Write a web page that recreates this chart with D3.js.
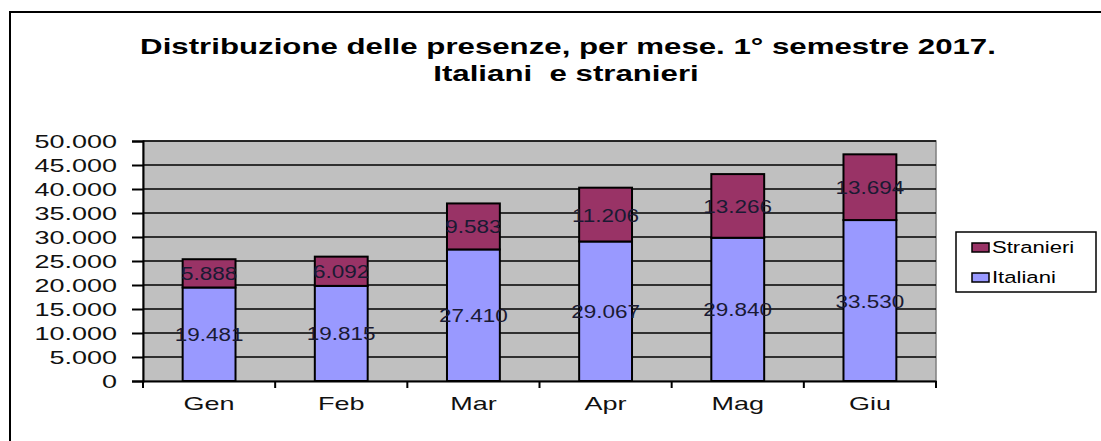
<!DOCTYPE html>
<html>
<head>
    <meta charset="utf-8">
    <title>Distribuzione delle presenze</title>
    <script src="https://d3js.org/d3.v7.min.js"></script>
    <style>
        body { margin: 0; background: #fff; }
        text { font-family: "Liberation Sans", Arial, sans-serif; }
    </style>
</head>
<body>
    <script>
// data
const months = ["Gen", "Feb", "Mar", "Apr", "Mag", "Giu"];
const italiani = [19481, 19815, 27410, 29067, 29840, 33530];
const stranieri = [5888, 6092, 9583, 11206, 13266, 13694];
const seriesNames = ["Italiani", "Stranieri"];
const seriesColors = ["#9999FF", "#993366"];
const yTicks = [0, 5000, 10000, 15000, 20000, 25000, 30000, 35000, 40000, 45000, 50000];

const W = 1101, H = 441;
const plot = {left: 143, top: 141, right: 936, bottom: 381};

const fmt = d3.formatLocale({decimal: ",", thousands: ".", grouping: [3], currency: ["", "€"]}).format(",d");

// the original text is drawn wide, so stretch it horizontally
function stretch(sel, sx) {
    sel.each(function() {
        let t = d3.select(this);
        let x0 = +t.attr("x") || 0;
        t.attr("x", x0 / sx).attr("transform", `scale(${sx},1)`);
    });
}

const svg = d3.select("body").append("svg")
    .attr("width", W)
    .attr("height", H);

// outer frame of the chart object
svg.append("rect")
    .attr("x", 10).attr("y", 12)
    .attr("width", W + 20).attr("height", H + 20)
    .attr("fill", "#fff")
    .attr("stroke", "#000")
    .attr("stroke-width", 2);

// title
let title = svg.append("g");
title.append("text")
    .attr("x", 568).attr("y", 54)
    .text("Distribuzione delle presenze, per mese. 1° semestre 2017.");
title.append("text")
    .attr("x", 566).attr("y", 81)
    .style("white-space", "pre")
    .text("Italiani  e stranieri");
title.selectAll("text")
    .attr("text-anchor", "middle")
    .style("font-size", "22px").style("font-weight", "bold");
stretch(title.selectAll("text"), 1.42);

let x = d3.scaleBand()
    .domain(months)
    .range([plot.left, plot.right])
    .paddingInner(0.6)
    .paddingOuter(0.3);

let y = d3.scaleLinear()
    .domain([0, 50000])
    .range([plot.bottom, plot.top]);

// plot area
svg.append("rect")
    .attr("x", plot.left).attr("y", plot.top)
    .attr("width", plot.right - plot.left)
    .attr("height", plot.bottom - plot.top)
    .attr("fill", "#C0C0C0")
    .attr("stroke", "#808080")
    .attr("stroke-width", 1.5);

// gridlines
svg.append("g")
    .selectAll("line")
    .data(yTicks.slice(1))
    .enter().append("line")
    .attr("x1", plot.left).attr("x2", plot.right)
    .attr("y1", d => y(d)).attr("y2", d => y(d))
    .attr("stroke", "#000").attr("stroke-width", 1.5);

// stacked data
let rows = months.map((m, i) => ({month: m, Italiani: italiani[i], Stranieri: stranieri[i]}));
let stack = d3.stack().keys(seriesNames)(rows);

let layers = svg.append("g")
    .selectAll("g")
    .data(stack)
    .enter().append("g")
    .attr("fill", (d, i) => seriesColors[i]);

layers.selectAll("rect")
    .data(d => d)
    .enter().append("rect")
    .attr("x", d => x(d.data.month))
    .attr("y", d => y(d[1]))
    .attr("width", x.bandwidth())
    .attr("height", d => y(d[0]) - y(d[1]))
    .attr("stroke", "#000")
    .attr("stroke-width", 2);

// data labels, in the middle of each segment
let labels = layers.selectAll("text")
    .data(d => d.map(v => ({v: v, key: d.key})))
    .enter().append("text")
    .attr("x", d => x(d.v.data.month) + x.bandwidth() / 2)
    .attr("y", d => y((d.v[0] + d.v[1]) / 2) + 7)
    .attr("text-anchor", "middle")
    .attr("fill", "#1a1a33")
    .style("font-size", "18px")
    .text(d => fmt(d.v.data[d.key]));
stretch(labels, 1.25);

// y axis
let yAxis = d3.axisLeft(y)
    .tickValues(yTicks)
    .tickSize(11)
    .tickPadding(15)
    .tickFormat(fmt);

let gy = svg.append("g")
    .attr("transform", `translate(${plot.left},0)`)
    .call(yAxis);
gy.select(".domain").attr("stroke", "#000").attr("stroke-width", 2);
gy.selectAll(".tick line").attr("stroke", "#000").attr("stroke-width", 2);
gy.selectAll("text").style("font-size", "18px").attr("fill", "#111").attr("dy", "0.36em");
stretch(gy.selectAll("text"), 1.5);

// x axis
let xAxis = d3.axisBottom(x)
    .tickSize(0)
    .tickPadding(16);

let gx = svg.append("g")
    .attr("transform", `translate(0,${plot.bottom})`)
    .call(xAxis);
gx.select(".domain").attr("stroke", "#000").attr("stroke-width", 2);
gx.selectAll("text").style("font-size", "18px").attr("fill", "#111");
stretch(gx.selectAll("text"), 1.5);

// category boundary ticks
gx.append("g")
    .selectAll("line")
    .data(d3.range(months.length + 1))
    .enter().append("line")
    .attr("x1", i => plot.left + i * (plot.right - plot.left) / months.length)
    .attr("x2", i => plot.left + i * (plot.right - plot.left) / months.length)
    .attr("y1", 0).attr("y2", 7)
    .attr("stroke", "#000").attr("stroke-width", 2);

// legend
let legend = svg.append("g").attr("transform", "translate(956,232)");
legend.append("rect")
    .attr("width", 140).attr("height", 60)
    .attr("fill", "#fff").attr("stroke", "#000").attr("stroke-width", 1.5);

let legendItems = seriesNames.slice().reverse();
legendItems.forEach((name, i) => {
    let g = legend.append("g").attr("transform", `translate(16,${11 + i * 30})`);
    g.append("rect")
        .attr("width", 17).attr("height", 9)
        .attr("fill", seriesColors[seriesNames.indexOf(name)])
        .attr("stroke", "#000").attr("stroke-width", 1.5);
    let t = g.append("text")
        .attr("x", 20).attr("y", 10)
        .style("font-size", "17px")
        .text(name);
    stretch(t, 1.3);
});
    </script>
</body>
</html>
